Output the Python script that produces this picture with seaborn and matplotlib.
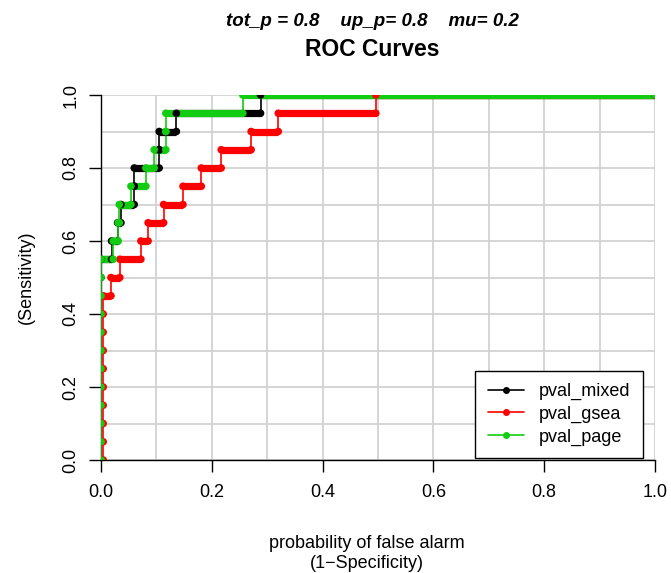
import numpy as np
import pandas as pd
import matplotlib
matplotlib.use("Agg")
import matplotlib.pyplot as plt
from matplotlib.lines import Line2D
import seaborn as sns

sns.set_style("white")
plt.rcParams['font.family'] = ['Liberation Sans', 'DejaVu Sans']
plt.rcParams['text.color'] = 'black'
plt.rcParams['axes.labelcolor'] = 'black'
plt.rcParams['xtick.color'] = 'black'
plt.rcParams['ytick.color'] = 'black'

# ---- data ----
series_names = ["pval_mixed", "pval_gsea", "pval_page"]
series_colors = ["#000000", "#ff0000", "#11cc11"]

# vertical part near the origin: x position and sensitivity values of the points
mixed_low_x = 0.0
mixed_low_tpr = [0.0, 0.05, 0.1, 0.15, 0.2, 0.25, 0.3, 0.35, 0.4, 0.45, 0.5]
gsea_low_x = 0.004
gsea_low_tpr = [0.0, 0.05, 0.1, 0.15, 0.2, 0.25, 0.3, 0.35, 0.4]
page_low_x = 0.0
page_low_tpr = [0.0, 0.05, 0.1, 0.15, 0.2, 0.25, 0.3, 0.35, 0.4, 0.45, 0.5]

# staircase: sensitivity levels and the false-alarm breaks between levels
mixed_levels = [0.55, 0.6, 0.65, 0.7, 0.75, 0.8, 0.85, 0.9, 0.95, 1.0]
mixed_fpr = [0.0, 0.019, 0.03, 0.036, 0.06, 0.06, 0.105, 0.105, 0.136, 0.288, 1.0]

gsea_levels = [0.45, 0.5, 0.55, 0.6, 0.65, 0.7, 0.75, 0.8, 0.85, 0.9, 0.95, 1.0]
gsea_fpr = [0.004, 0.018, 0.034, 0.072, 0.085, 0.113, 0.148, 0.181, 0.217,
            0.271, 0.32, 0.496, 1.0]

page_levels = [0.55, 0.6, 0.65, 0.7, 0.75, 0.8, 0.85, 0.9, 0.95, 1.0]
page_fpr = [0.0, 0.022, 0.031, 0.033, 0.054, 0.081, 0.096, 0.117, 0.117, 0.256, 1.0]

x_ticks = [0.0, 0.2, 0.4, 0.6, 0.8, 1.0]
y_ticks = [0.0, 0.2, 0.4, 0.6, 0.8, 1.0]
grid_vals = [0.0, 0.1, 0.2, 0.3, 0.4, 0.5, 0.6, 0.7, 0.8, 0.9, 1.0]

curves = [
    (mixed_low_x, mixed_low_tpr, mixed_levels, mixed_fpr),
    (gsea_low_x, gsea_low_tpr, gsea_levels, gsea_fpr),
    (page_low_x, page_low_tpr, page_levels, page_fpr),
]

# ---- build tables ----
line_rows = []
seg_rows = []
pt_rows = []
for name, (lx, ltpr, lv, fp) in zip(series_names, curves):
    order = 0
    for t in ltpr:
        line_rows.append((name, order, lx, t)); order += 1
        pt_rows.append((name, lx, t))
    for i, lvl in enumerate(lv):
        line_rows.append((name, order, fp[i], lvl)); order += 1
        line_rows.append((name, order, fp[i + 1], lvl)); order += 1
        seg_rows.append((name, fp[i], fp[i + 1], lvl))
        pt_rows.append((name, fp[i], lvl))
        pt_rows.append((name, fp[i + 1], lvl))

lines_df = pd.DataFrame(line_rows, columns=["series", "order", "fpr", "tpr"])
segs_df = pd.DataFrame(seg_rows, columns=["series", "x0", "x1", "tpr"])
pts_df = pd.DataFrame(pt_rows, columns=["series", "fpr", "tpr"])
palette = dict(zip(series_names, series_colors))

# ---- figure ----
fig = plt.figure(figsize=(6.71, 5.73), dpi=100)
ax = fig.add_axes([101 / 671, 113 / 573, 554 / 671, 365 / 573])

for g in grid_vals:
    ax.axvline(g, color="#d2d2d2", lw=1.3, zorder=0)
    ax.axhline(g, color="#d2d2d2", lw=1.3, zorder=0)

for name in series_names:
    col = palette[name]
    d = lines_df[lines_df.series == name].sort_values("order")
    sns.lineplot(data=d, x="fpr", y="tpr", sort=False, estimator=None,
                 color=col, lw=1.2, ax=ax, legend=False, zorder=3)
    s = segs_df[segs_df.series == name]
    ax.hlines(s["tpr"], s["x0"], s["x1"], color=col, lw=5.2, zorder=4)
    p = pts_df[pts_df.series == name]
    sns.scatterplot(data=p, x="fpr", y="tpr", color=col, s=30,
                    edgecolor="none", ax=ax, legend=False, zorder=5)

ax.set_xlim(0, 1)
ax.set_ylim(0, 1)
ax.set_xticks(x_ticks)
ax.set_yticks(y_ticks)
ax.set_xticklabels([f"{v:.1f}" for v in x_ticks])
ax.set_yticklabels([f"{v:.1f}" for v in y_ticks], rotation=90, va="center")
ax.tick_params(axis="both", direction="out", length=8.5, width=1,
               color="black", labelcolor="black", labelsize=13,
               bottom=True, left=True, top=False, right=False)
ax.tick_params(axis="x", pad=9)
ax.tick_params(axis="y", pad=7)
ax.set_xlabel("")
ax.set_ylabel("")
for sp in ["top", "right"]:
    ax.spines[sp].set_visible(False)
for sp in ["left", "bottom"]:
    ax.spines[sp].set_color("black")
    ax.spines[sp].set_linewidth(1.0)

handles = [Line2D([0], [0], color=c, lw=1.2, marker="o", markersize=4)
           for c in series_colors]
leg = ax.legend(handles, series_names, loc="lower right",
                bbox_to_anchor=(0.978, 0.005), fontsize=13, frameon=True,
                fancybox=False, framealpha=1, edgecolor="black",
                handlelength=2.0, borderpad=0.7, labelspacing=0.3,
                handletextpad=0.8, borderaxespad=0)
leg.get_frame().set_linewidth(1.0)
for t in leg.get_texts():
    t.set_color("black")

fig.text(372 / 671, 1 - 22 / 573, "tot_p = 0.8    up_p= 0.8    mu= 0.2",
         ha="center", va="center", fontsize=13.5, fontweight="bold",
         fontstyle="italic", color="black")
fig.text(372 / 671, 1 - 50 / 573, "ROC Curves", ha="center", va="center",
         fontsize=16.5, fontweight="bold", color="black")
fig.text(367 / 671, 1 - 543 / 573, "probability of false alarm",
         ha="center", va="center", fontsize=13, color="black")
fig.text(367 / 671, 1 - 563 / 573, "(1\u2212Specificity)",
         ha="center", va="center", fontsize=13, color="black")
fig.text(26 / 671, 1 - 277 / 573, "(Sensitivity)", ha="center", va="center",
         fontsize=13, rotation=90, color="black")

fig.savefig("out.png", dpi=100)
